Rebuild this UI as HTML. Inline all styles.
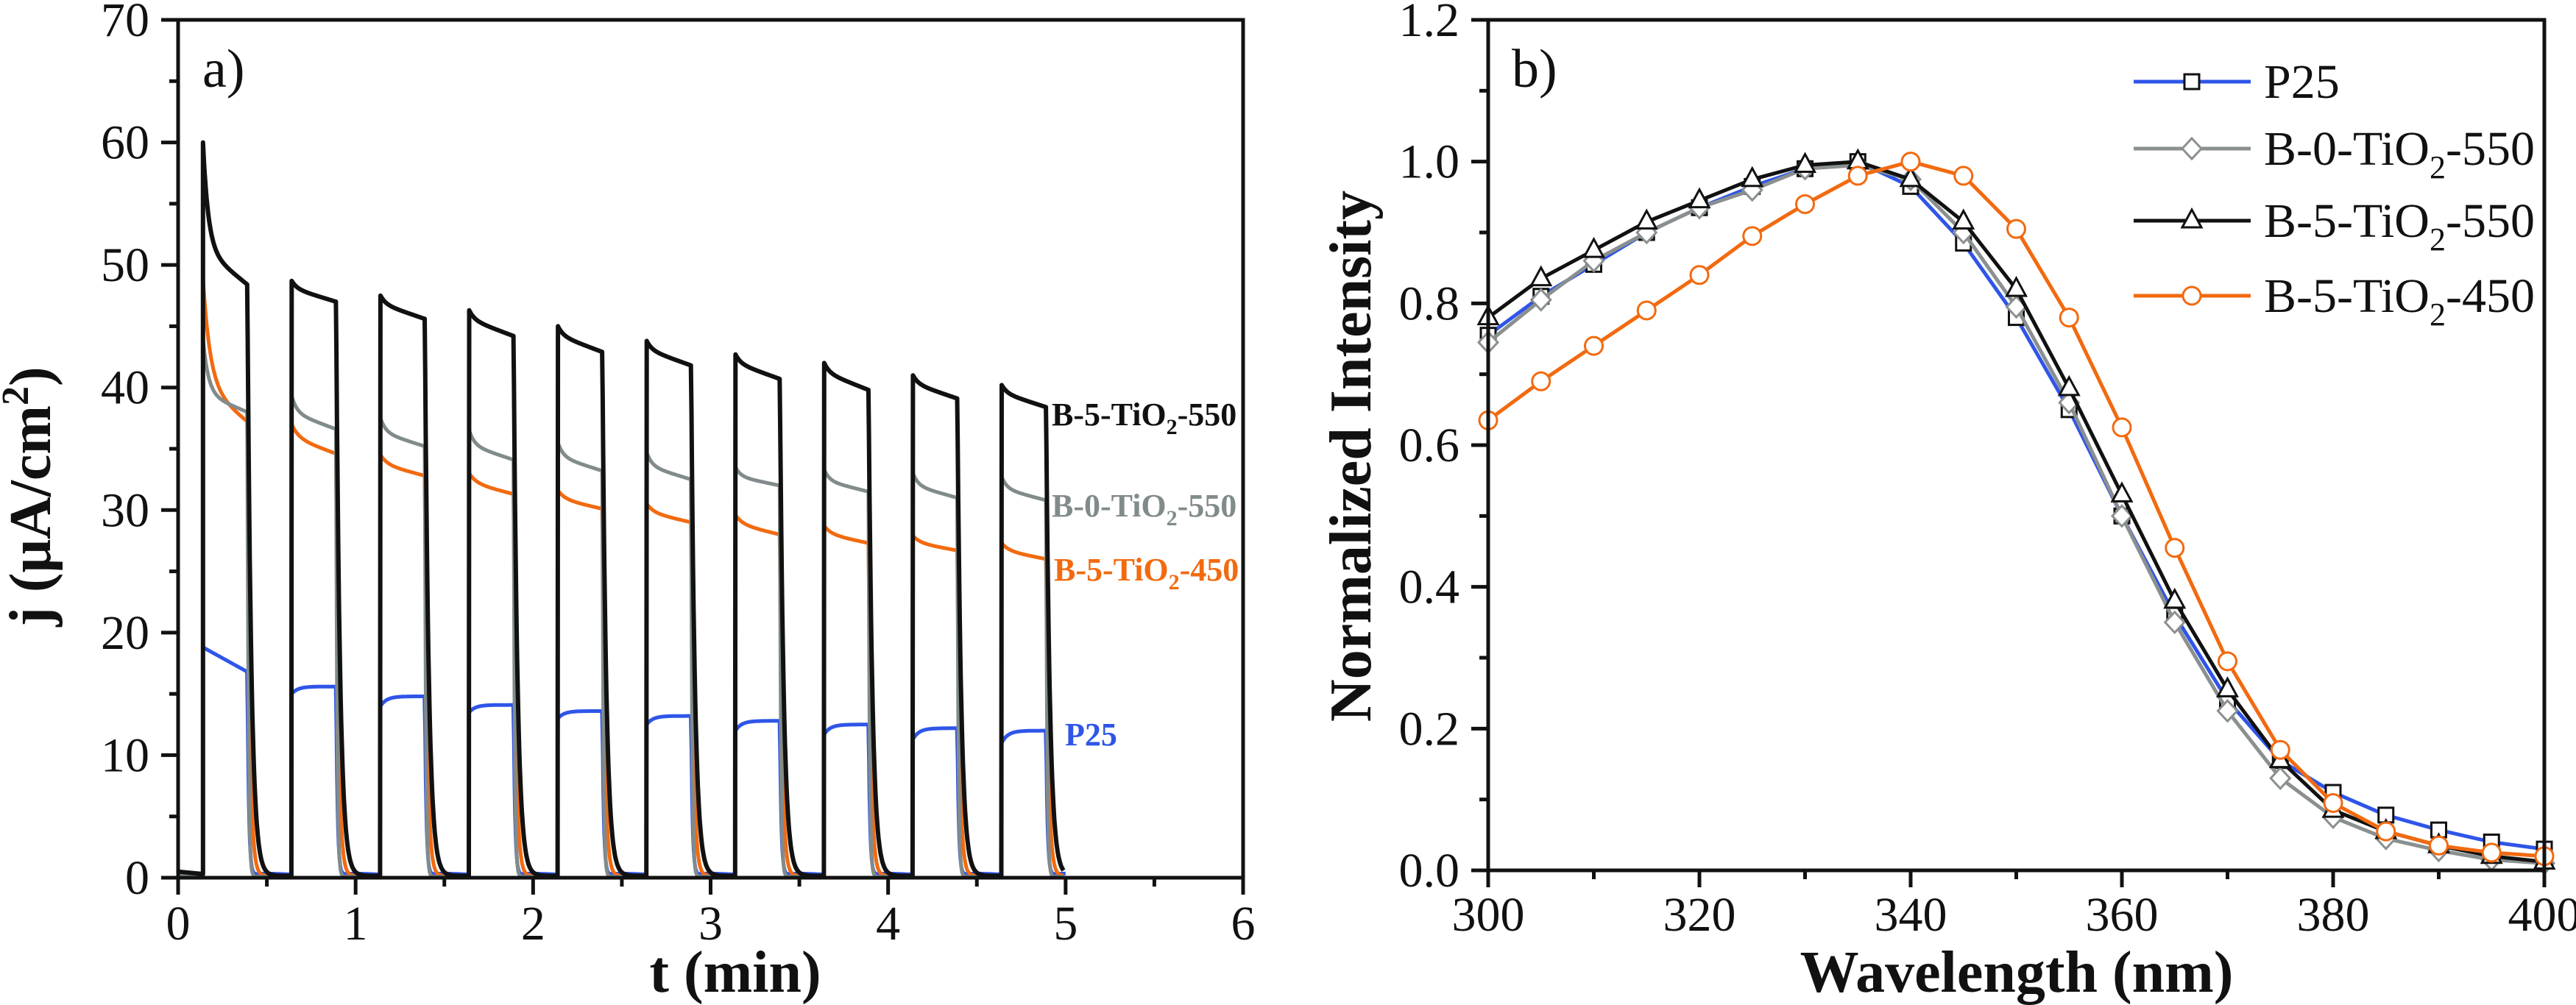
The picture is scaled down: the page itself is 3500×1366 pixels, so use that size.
<!DOCTYPE html>
<html><head><meta charset="utf-8"><style>
html,body{margin:0;padding:0;background:#fff}
svg{display:block}
text{font-family:"Liberation Serif",serif}
</style></head><body>
<svg id="fig" width="3500" height="1366" viewBox="0 0 3500 1366" xmlns="http://www.w3.org/2000/svg">
<g id="pa"></g>
<g id="pb"></g>
</svg>
<script>
// ---------- Panel a data ----------
const onTimes = [0.14,0.64,1.14,1.64,2.14,2.64,3.14,3.64,4.14,4.64];
const onDuration = 0.25;
const blackPeaks = [60,48.7,47.5,46.3,45.0,43.8,42.7,42.0,41.0,40.2];
const blackEnds  = [48.4,47.0,45.6,44.2,42.9,41.8,40.7,39.8,39.1,38.4];
const grayPeaks  = [44.0,39.3,37.5,36.5,35.5,34.7,33.5,33.3,33.0,32.7];
const grayEnds   = [38.0,36.6,35.2,34.1,33.2,32.5,32.0,31.5,31.0,30.8];
const orangePeaks= [49.0,37.0,34.5,33.0,31.6,30.5,29.6,28.7,27.9,27.3];
const orangeEnds = [37.2,34.6,32.8,31.3,30.1,29.0,28.0,27.3,26.7,26.0];
const blueStarts = [18.8,15.0,14.0,13.5,13.0,12.5,12.0,11.7,11.3,11.0];
const bluePlateaus=[16.8,15.6,14.8,14.1,13.6,13.2,12.8,12.5,12.2,12.0];
const xTicksA = [0,1,2,3,4,5,6];
const yTicksA = [0,10,20,30,40,50,60,70];

// ---------- Panel b data ----------
const wavelengths = [300,305,310,315,320,325,330,335,340,345,350,355,360,365,370,375,380,385,390,395,400];
const p25  = [0.755,0.81,0.855,0.90,0.935,0.965,0.99,1.0,0.965,0.885,0.78,0.65,0.50,0.36,0.24,0.155,0.11,0.078,0.057,0.04,0.03];
const b0   = [0.745,0.805,0.86,0.90,0.935,0.96,0.99,0.995,0.975,0.90,0.795,0.66,0.50,0.35,0.225,0.13,0.075,0.045,0.028,0.015,0.01];
const b5_550=[0.78,0.835,0.875,0.915,0.945,0.975,0.995,1.0,0.975,0.915,0.82,0.68,0.53,0.38,0.255,0.155,0.085,0.055,0.035,0.02,0.012];
const b5_450=[0.635,0.69,0.74,0.79,0.84,0.895,0.94,0.98,1.0,0.98,0.905,0.78,0.625,0.455,0.295,0.17,0.095,0.055,0.035,0.025,0.02];
const xTicksB = [300,320,340,360,380,400];
const yTicksB = [0.0,0.2,0.4,0.6,0.8,1.0,1.2];

const NS="http://www.w3.org/2000/svg";
function mk(tag, attrs, parent){const e=document.createElementNS(NS,tag);for(const k in attrs)e.setAttribute(k,attrs[k]);parent.appendChild(e);return e;}

// ---------- Panel a ----------
const pa=document.getElementById('pa');
const ax0=242, ax1=1689, ay0=1193, ay1=27;
const xA=t=>ax0+(t-0)/6*(ax1-ax0);
const yA=v=>ay0-(v/70)*(ay0-ay1);

function transientPath(peaks, ends, tauOn, tauOff, base, fastFrac){
  let pts=[[0,base],[onTimes[0],base*0.6]];
  for(let i=0;i<onTimes.length;i++){
    const on=onTimes[i], off=on+onDuration;
    const f = i===0 ? 0.75 : fastFrac;
    for(let s=0;s<=onDuration+1e-9;s+=0.003){
      const d=peaks[i]-ends[i];
      const v=ends[i]+d*f*Math.exp(-s/tauOn)+d*(1-f)*(1-s/onDuration);
      pts.push([on+s, v]);
    }
    const next = i<onTimes.length-1 ? onTimes[i+1] : off+0.1;
    const endv=pts[pts.length-1][1];
    for(let s=0.002;on+onDuration+s<=next;s+=0.003){
      pts.push([off+s, endv*Math.exp(-s/tauOff)+base*0.3*(1-Math.exp(-s/tauOff))]);
    }
  }
  return pts;
}
function bluePath(){
  let pts=[[0,0.3],[onTimes[0],0.2]];
  for(let i=0;i<onTimes.length;i++){
    const on=onTimes[i], off=on+onDuration;
    for(let s=0;s<=onDuration+1e-9;s+=0.004){
      let v;
      if(i===0) v=blueStarts[i]+(bluePlateaus[i]-blueStarts[i])*(s/onDuration);
      else v=bluePlateaus[i]-(bluePlateaus[i]-blueStarts[i])*Math.exp(-s/0.035);
      pts.push([on+s, v]);
    }
    const next = i<onTimes.length-1 ? onTimes[i+1] : 5.0;
    const endv=pts[pts.length-1][1];
    for(let s=0.002;off+s<=next;s+=0.003){
      pts.push([off+s, endv*Math.exp(-s/0.008)+0.5*(1-Math.exp(-s/0.05))*Math.exp(-s/0.4)]);
    }
  }
  return pts;
}
function drawLine(parent, pts, color, w, name, xf, yf){
  const d=pts.map((p,i)=>(i?'L':'M')+xf(p[0]).toFixed(1)+' '+yf(p[1]).toFixed(1)).join(' ');
  const el=mk('path',{d:d,fill:'none',stroke:color,'stroke-width':w,'stroke-linejoin':'round'},parent);
  
  
  return el;
}
drawLine(pa, bluePath(), '#2f55e8', 5, 'series-p25-transient', xA, yA);
drawLine(pa, transientPath(orangePeaks, orangeEnds, 0.04, 0.014, 0.5, 0.45), '#f26a10', 5, 'series-b5-tio2-450-transient', xA, yA);
drawLine(pa, transientPath(grayPeaks, grayEnds, 0.03, 0.006, 0.3, 0.5), '#818b8b', 5, 'series-b0-tio2-550-transient', xA, yA);
drawLine(pa, transientPath(blackPeaks, blackEnds, 0.03, 0.022, 0.5, 0.35), '#111111', 6, 'series-b5-tio2-550-transient', xA, yA);

// axes a
let fr=mk('path',{d:`M${ax0} ${ay1} H${ax1} V${ay0} H${ax0} Z`,fill:'none',stroke:'#111','stroke-width':5},pa);


for(let t=0;t<=6.001;t+=0.5){
  const major=Math.abs(t-Math.round(t))<1e-6;
  const tk=mk('line',{x1:xA(t),x2:xA(t),y1:ay0,y2:ay0+(major?23:12),stroke:'#111','stroke-width':5},pa);
  
  
}
xTicksA.forEach(v=>{
  const tx=mk('text',{x:xA(v),y:1277,'text-anchor':'middle','font-size':66,fill:'#111'},pa);
  tx.textContent=v;
  
  
});
for(let v=0;v<=70;v+=5){
  const major=v%10===0;
  const tk=mk('line',{x1:ax0,x2:ax0-(major?23:12),y1:yA(v),y2:yA(v),stroke:'#111','stroke-width':5},pa);
  
  
}
yTicksA.forEach(v=>{
  const tx=mk('text',{x:203,y:yA(v)+22,'text-anchor':'end','font-size':66,fill:'#111'},pa);
  tx.textContent=v;
  
  
});
</script>
<script>
(function(){
const pa=document.getElementById('pa');
pa.insertAdjacentHTML('beforeend',`
<text x="275" y="118" font-size="74" fill="#111">a)</text>
<text x="999" y="1348" font-size="80" font-weight="bold" text-anchor="middle" fill="#111">t (min)</text>
<text transform="translate(68,675) rotate(-90)" font-size="80" font-weight="bold" text-anchor="middle" fill="#111">j (μA/cm<tspan dy="-30" font-size="52">2</tspan><tspan dy="30">)</tspan></text>
<text x="1429" y="578" font-size="44" font-weight="bold" fill="#111">B-5-TiO<tspan dy="12" font-size="30">2</tspan><tspan dy="-12">-550</tspan></text>
<text x="1429" y="702" font-size="44" font-weight="bold" fill="#818b8b">B-0-TiO<tspan dy="12" font-size="30">2</tspan><tspan dy="-12">-550</tspan></text>
<text x="1432" y="789" font-size="44" font-weight="bold" fill="#f26a10">B-5-TiO<tspan dy="12" font-size="30">2</tspan><tspan dy="-12">-450</tspan></text>
<text x="1447" y="1013" font-size="44" font-weight="bold" fill="#2f55e8">P25</text>
`);
})();

// ---------- Panel b ----------
const pb=document.getElementById('pb');
const bx0=2022, bx1=3457, by0=1183, by1=27;
const xB=w=>bx0+(w-300)/100*(bx1-bx0);
const yB=v=>by0-(v/1.2)*(by0-by1);

function marker(parent, type, cx, cy, color, name){
  let el;
  if(type==='square') el=mk('rect',{x:cx-10,y:cy-10,width:20,height:20,fill:'#fff',stroke:'#111','stroke-width':3},parent);
  else if(type==='diamond') el=mk('path',{d:`M${cx} ${cy-14} L${cx+13} ${cy} L${cx} ${cy+14} L${cx-13} ${cy} Z`,fill:'#fff',stroke:'#8a8f8f','stroke-width':3},parent);
  else if(type==='triangle') el=mk('path',{d:`M${cx} ${cy-15} L${cx+13} ${cy+9} L${cx-13} ${cy+9} Z`,fill:'#fff',stroke:'#111','stroke-width':3},parent);
  else el=mk('circle',{cx:cx,cy:cy,r:12,fill:'#fff',stroke:color,'stroke-width':3},parent);
  
  
}
const seriesB=[
  {vals:p25,color:'#2f55e8',m:'square',name:'p25'},
  {vals:b0,color:'#8a8f8f',m:'diamond',name:'b0-tio2-550'},
  {vals:b5_550,color:'#111111',m:'triangle',name:'b5-tio2-550'},
  {vals:b5_450,color:'#f26a10',m:'circle',name:'b5-tio2-450'}
];
seriesB.forEach(s=>{
  const g=mk('g',{},pb);
  
  
  drawLine(g, wavelengths.map((w,i)=>[w,s.vals[i]]), s.color, 5, 'line-'+s.name, xB, yB);
  wavelengths.forEach((w,i)=>marker(g, s.m, xB(w), yB(s.vals[i]), s.color, 'marker-'+s.name));
});
let frb=mk('path',{d:`M${bx0} ${by1} H${bx1} V${by0} H${bx0} Z`,fill:'none',stroke:'#111','stroke-width':5},pb);


for(let w=300;w<=400;w+=10){
  const major=w%20===0;
  const tk=mk('line',{x1:xB(w),x2:xB(w),y1:by0,y2:by0+(major?23:12),stroke:'#111','stroke-width':5},pb);
  
  
}
xTicksB.forEach(v=>{
  const tx=mk('text',{x:xB(v),y:1265,'text-anchor':'middle','font-size':66,fill:'#111'},pb);
  tx.textContent=v;
  
  
});
for(let k=0;k<=12;k++){
  const v=k/10, major=k%2===0;
  const tk=mk('line',{x1:bx0,x2:bx0-(major?23:12),y1:yB(v),y2:yB(v),stroke:'#111','stroke-width':5},pb);
  
  
}
yTicksB.forEach(v=>{
  const tx=mk('text',{x:1983,y:yB(v)+22,'text-anchor':'end','font-size':66,fill:'#111'},pb);
  tx.textContent=v.toFixed(1);
  
  
});
const legY=[111,202,300,402];
const legLabels=[['P25',''],['B-0-TiO','-550'],['B-5-TiO','-550'],['B-5-TiO','-450']];
seriesB.forEach((s,i)=>{
  const g=mk('g',{},pb);
  
  
  const ln=mk('line',{x1:2899,x2:3058,y1:legY[i],y2:legY[i],stroke:s.color,'stroke-width':5},g);
  
  
  marker(g, s.m, 2978, legY[i], s.color, 'legend-marker');
  const tx=mk('text',{x:3076,y:legY[i]+22,'font-size':66,fill:'#111'},g);
  
  
  if(i===0){tx.textContent='P25';}
  else{
    tx.appendChild(document.createTextNode(legLabels[i][0]));
    const sub=mk('tspan',{dy:18,'font-size':44},tx); sub.textContent='2';
    const rest=mk('tspan',{dy:-18},tx); rest.textContent=legLabels[i][1];
  }
});
pb.insertAdjacentHTML('beforeend',`
<text x="2054" y="118" font-size="74" fill="#111">b)</text>
<text x="2740" y="1348" font-size="80" font-weight="bold" text-anchor="middle" fill="#111">Wavelength (nm)</text>
<text transform="translate(1862,620) rotate(-90)" font-size="80" font-weight="bold" text-anchor="middle" fill="#111">Normalized Intensity</text>
`);
</script>
</body></html>
